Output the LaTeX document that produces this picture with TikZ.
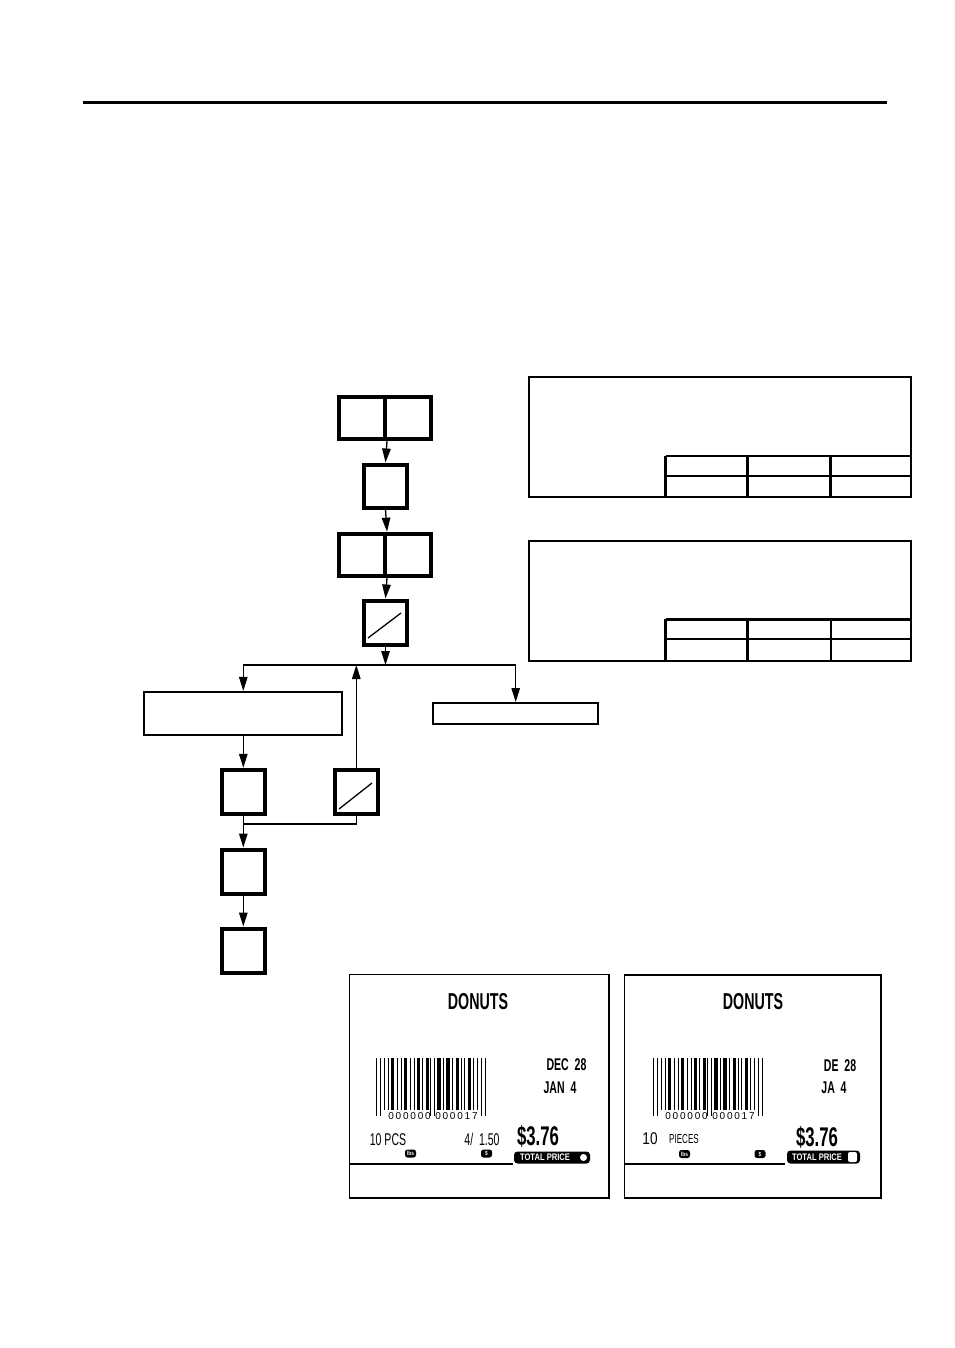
\documentclass[tikz,border=0pt]{standalone}
\usepackage{fontspec}
\setmainfont{Liberation Sans}
\newfontfamily\lab[FakeStretch=0.62]{Liberation Sans}
\newfontfamily\labw[FakeStretch=0.8]{Liberation Sans}
\newfontfamily\digs[LetterSpace=18]{Liberation Sans}
\usetikzlibrary{arrows.meta}
\tikzset{
  keybox/.style={draw, line width=4pt, minimum width=43pt, minimum height=43pt, inner sep=0pt},
  halfkey/.style={draw, line width=4pt, minimum width=46pt, minimum height=42pt, inner sep=0pt},
  stepbox/.style={draw, line width=2pt, inner sep=0pt},
  conn/.style={line width=1.3pt},
  arr/.style={line width=1.3pt, -{Triangle[length=14pt,width=8.5pt]}},
  panel/.style={line width=2pt},
  tbl/.style={line width=2.5pt},
  labbox/.style={line width=1.3pt},
  badge/.style={fill=black, text=white, rounded corners=2.5pt, inner sep=0pt, minimum width=11pt, minimum height=8pt, font=\labw\bfseries\fontsize{6}{6}\selectfont},
  lbltext/.style={font=\lab\bfseries, inner sep=0pt}
}
\newcommand{\mybarcode}[1]{%
  \foreach \o/\w in {8/1.2,12/1.2,15/3,21/1.2,25/1.2,28/3,34/1.2,38/1.2,41/2.5,46/1.2,50/3,61/3.5,67/1.2,70/3.5,76/1.2,80/2.5,85/1.2,88/1.2,92/2.5,97/1.2,101/1.2}
    {\fill (#1+\o,1058) rectangle (#1+\o+\w,1110);}
  \foreach \o in {0,3.5,54,57.5,105,108.5}
    {\fill (#1+\o,1058) rectangle (#1+\o+1.2,1116);}
}
\begin{document}
\begin{tikzpicture}[x=1pt,y=-1pt]
\useasboundingbox[fill=white] (0,0) rectangle (954,1348);
% top rule
\draw[line width=3pt] (83,103) -- (887,103);

% key column
\node[halfkey] (k1a) at (362,418) {};
\node[halfkey] (k1b) at (408,418) {};
\node[keybox] (k2) at (385.5,486) {};
\node[halfkey] (k3a) at (362,554.7) {};
\node[halfkey] (k3b) at (408,554.7) {};
\node[keybox, minimum height=44pt] (k4) at (385.5,622.5) {};
\draw[conn] (368,638) -- (401,613);

\draw[arr] (k1a.south east) -- (k2.north);
\draw[arr] (k2.south) -- (k3a.north east);
\draw[arr] (k3a.south east) -- (k4.north);

% split
\coordinate (split) at (385.5,665);
\node[stepbox, minimum width=198pt, minimum height=43pt] (sl) at (243.3,713.4) {};
\node[stepbox, minimum width=165pt, minimum height=21pt] (sr) at (515.7,713.5) {};
\draw[arr] (k4.south) -- (split);
\draw[conn] (sl.north |- split) -- (sr.north |- split);
\draw[arr] (sl.north |- split) -- (sl.north);
\draw[arr] (sr.north |- split) -- (sr.north);

\node[keybox, minimum height=44pt] (k5) at (243.3,791.8) {};
\node[keybox, minimum height=44pt] (k6) at (356.3,791.8) {};
\draw[conn] (339,809) -- (372,783);
\draw[arr] (sl.south) -- (k5.north);
\draw[arr] (k6.north) -- (k6.north |- split);

\coordinate (join) at (243.3,824);
\node[keybox, minimum height=44pt] (k7) at (243.3,871.5) {};
\node[keybox, minimum height=44pt] (k8) at (243.3,950.5) {};
\draw[conn] (k6.south) |- (join);
\draw[arr] (k5.south) -- (k7.north);
\draw[arr] (k7.south) -- (k8.north);

% panels
\draw[panel] (528.5,376.5) rectangle (911,497);
\draw[tbl] (665.7,456) -- (911,456);
\draw[tbl] (665.7,476) -- (911,476);
\foreach \x in {665.7,747.7,830.7} \draw[tbl] (\x,456) -- (\x,497);
\draw[panel] (528.5,540.5) rectangle (911,661);
\draw[tbl] (665.7,619.3) -- (911,619.3);
\draw[panel] (665.7,639.3) -- (911,639.3);
\draw[tbl] (665.7,619.3) -- (665.7,661);
\draw[tbl] (747.7,619.3) -- (747.7,661);
\draw[panel] (830.7,619.3) -- (830.7,661);

% label 1
\draw[labbox] (349.5,974.5) rectangle (609,1198);
\draw[conn] (349.5,1164) -- (513,1164);
\node[lbltext, font=\lab\bfseries\fontsize{23}{23}\selectfont] (d1) at (478,1001.5) {DONUTS};
\mybarcode{376}
\node[inner sep=0pt, font=\digs\fontsize{10}{10}\selectfont] (n1) at (433,1116) {000000 000017};
\node[lbltext, font=\lab\bfseries\fontsize{17}{17}\selectfont] (dt1) at (566.5,1064.5) {DEC\ \ 28};
\node[lbltext, font=\lab\bfseries\fontsize{17}{17}\selectfont] (dt2) at (560,1087.5) {JAN\ \ 4};
\node[inner sep=0pt, font=\lab\fontsize{17}{17}\selectfont] (q1) at (388,1139.5) {10 PCS};
\node[inner sep=0pt, font=\lab\fontsize{17}{17}\selectfont] (u1) at (482,1139.5) {4/\ \ 1.50};
\node[lbltext, font=\lab\bfseries\fontsize{27}{27}\selectfont] (p1) at (538,1136.5) {\$3.76};
\node[badge] (b1) at (410.5,1153.5) {lbs};
\node[badge] (b2) at (486.5,1153.5) {\$};
\node[fill=black, rounded corners=3.5pt, minimum width=76pt, minimum height=12pt, inner sep=0pt] (tp1) at (552,1157.5) {};
\node[text=white, inner sep=0pt, font=\labw\bfseries\fontsize{9.5}{9.5}\selectfont] (tt1) at (545,1157.5) {TOTAL PRICE};
\fill[white] (583.5,1157.5) circle (3.5);

% label 2
\draw[labbox] (624.5,975) rectangle (881,1198);
\draw[line width=2pt] (624.5,1164) -- (785,1164);
\node[lbltext, font=\lab\bfseries\fontsize{23}{23}\selectfont] (d2) at (753,1001.5) {DONUTS};
\mybarcode{653}
\node[inner sep=0pt, font=\digs\fontsize{10}{10}\selectfont] (n2) at (710,1116) {000000 000017};
\node[lbltext, font=\lab\bfseries\fontsize{17}{17}\selectfont] (dt3) at (840,1066) {DE\ \ 28};
\node[lbltext, font=\lab\bfseries\fontsize{17}{17}\selectfont] (dt4) at (834,1088) {JA\ \ 4};
\node[inner sep=0pt, font=\labw\fontsize{17}{17}\selectfont] (q2) at (650,1139) {10};
\node[inner sep=0pt, font=\lab\fontsize{13}{13}\selectfont] (q3) at (684,1139) {PIECES};
\node[lbltext, font=\lab\bfseries\fontsize{27}{27}\selectfont] (p2) at (817,1137) {\$3.76};
\node[badge] (b3) at (684.5,1154) {lbs};
\node[badge] (b4) at (760,1154) {\$};
\node[fill=black, rounded corners=3.5pt, minimum width=73pt, minimum height=13pt, inner sep=0pt] (tp2) at (823.5,1157) {};
\node[text=white, inner sep=0pt, font=\labw\bfseries\fontsize{9.5}{9.5}\selectfont] (tt2) at (817,1157) {TOTAL PRICE};
\fill[white, rounded corners=2pt] (848,1152) rectangle (857,1162);
\end{tikzpicture}
\end{document}
